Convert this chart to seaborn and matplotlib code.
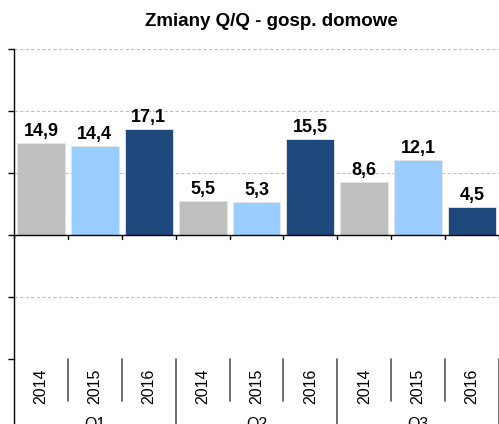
import numpy as np
import pandas as pd
import matplotlib
matplotlib.use("Agg")
import matplotlib.pyplot as plt
import seaborn as sns

# Dane
kwartaly = ['Q1', 'Q2', 'Q3']
lata = ['2014', '2015', '2016']
wartosci = [14.9, 14.4, 17.1, 5.5, 5.3, 15.5, 8.6, 12.1, 4.5]
kolory = {'2014': '#BFBFBF', '2015': '#99CCFF', '2016': '#1F497D'}

df = pd.DataFrame({
    'kat': [f'{q}-{r}' for q in kwartaly for r in lata],
    'rok': [r for q in kwartaly for r in lata],
    'kw': [q for q in kwartaly for r in lata],
    'wartosc': wartosci,
})

sns.set_style('white')
plt.rcParams['font.family'] = ['Liberation Sans', 'DejaVu Sans']
plt.rcParams['text.color'] = 'black'

fig = plt.figure(figsize=(4.99, 4.24), dpi=100)
ax = fig.add_axes([14 / 499, 65 / 424, 485 / 499, 310 / 424])

sns.barplot(data=df, x='kat', y='wartosc', hue='rok', palette=kolory,
            dodge=False, width=0.89, legend=False, ax=ax, saturation=1,
            edgecolor='#E6E6E6', linewidth=0.6, zorder=3)

ax.set_xlim(-0.5, len(df) - 0.5)
ax.set_ylim(-20, 30)
ax.set_yticks(np.arange(-20, 31, 10))
ax.set_yticklabels([])
ax.set_xticks([])
ax.set_xlabel('')
ax.set_ylabel('')

# siatka
for y in np.arange(-20, 31, 10):
    if y != 0:
        ax.axhline(y, color='#BFBFBF', lw=0.8, ls=(0, (3, 2)), zorder=1)
ax.axhline(0, color='black', lw=1.0, zorder=4)

for s in ['top', 'right', 'bottom']:
    ax.spines[s].set_visible(False)
ax.spines['left'].set_color('black')
ax.spines['left'].set_linewidth(1.0)
ax.tick_params(axis='y', which='both', left=True, length=4, width=1, color='black', direction='out')

# etykiety wartości
for i, v in enumerate(df['wartosc']):
    ax.text(i, v + 0.5, f'{v:.1f}'.replace('.', ','), ha='center', va='bottom',
            fontsize=13, fontweight='bold', color='black', zorder=5)

# znaczniki kategorii na osi zerowej
for b in range(len(df) + 1):
    ax.plot([b - 0.5, b - 0.5], [0, -0.65], color='black', lw=1.0, zorder=4, clip_on=False)

# dolne etykiety kategorii (lata i kwartały)
trans = ax.get_xaxis_transform()
ax.plot([-0.5, -0.5], [0, -0.22], transform=trans, color='black', lw=1.0, clip_on=False)
for i, r in enumerate(df['rok']):
    ax.text(i, -0.087, r, transform=trans, rotation=90, ha='center', va='center',
            fontsize=11.5, color='black')
for b in range(1, len(df)):
    if b % 3 != 0:
        ax.plot([b - 0.5, b - 0.5], [0, -0.137], transform=trans, color='#555555', lw=1.2, clip_on=False)
for g in range(1, len(kwartaly) + 1):
    ax.plot([3 * g - 0.5, 3 * g - 0.5], [0, -0.22], transform=trans, color='#555555', lw=1.2, clip_on=False)
for g, q in enumerate(kwartaly):
    ax.text(3 * g + 1, -0.187, q, transform=trans, ha='center', va='top',
            fontsize=11.5, color='black')

fig.text(271 / 499, 1 - 22 / 424, 'Zmiany Q/Q - gosp. domowe', ha='center', va='center',
         fontsize=13.5, fontweight='bold', color='black')

fig.savefig('out.png', dpi=100)
